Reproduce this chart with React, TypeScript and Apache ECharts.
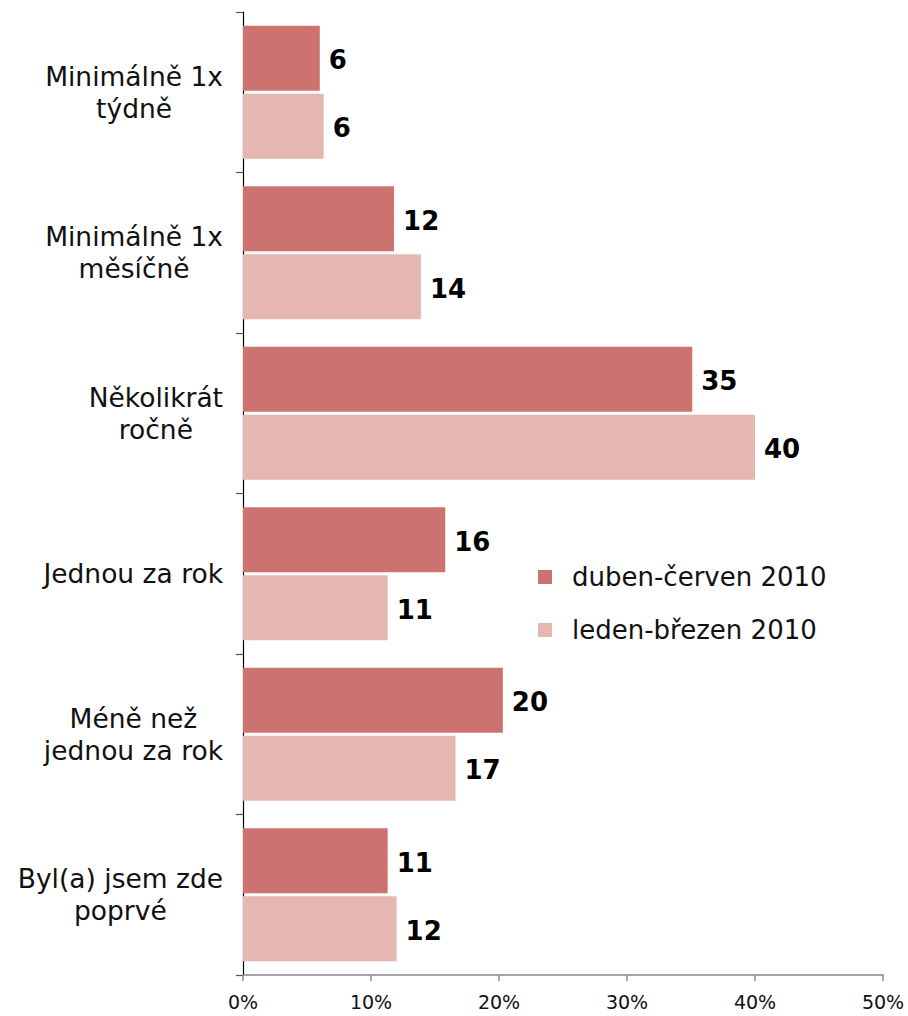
import React, { useEffect, useRef } from "react";
import * as echarts from "echarts";

const categories = [
  "Minimálně 1x\ntýdně",
  "Minimálně 1x\nměsíčně",
  "Několikrát\nročně",
  "Jednou za rok",
  "Méně než\njednou za rok",
  "Byl(a) jsem zde\npoprvé",
];
const seriesNames = ["duben-červen 2010", "leden-březen 2010"];
const aprJun = [6.0, 11.8, 35.1, 15.8, 20.3, 11.3];
const janMar = [6.3, 13.9, 40.0, 11.3, 16.6, 12.0];
const xTicks = [0, 10, 20, 30, 40, 50];
const colors = ["#CC7370", "#E6B7B1"];

const FONT = "DejaVu Sans, Verdana, sans-serif";

export default function App() {
  const ref = useRef<HTMLDivElement>(null);
  useEffect(() => {
    if (!ref.current) return;
    const chart = echarts.init(ref.current, undefined, { renderer: "svg" });
    const labelCfg = {
      show: true,
      position: "right",
      distance: 9,
      offset: [0, 2],
      formatter: (p: any) => String(Math.round(p.value)),
      fontFamily: FONT,
      fontWeight: "bold",
      fontSize: 26,
      color: "#000",
    };
    chart.setOption({
      animation: false,
      textStyle: { fontFamily: FONT },
      grid: { left: 243, right: 25, top: 12, bottom: 41, containLabel: false },
      legend: {
        orient: "vertical",
        left: 533,
        top: 559,
        itemWidth: 14,
        itemHeight: 14,
        itemGap: 27,
        icon: "rect",
        textStyle: { fontFamily: FONT, fontSize: 26, color: "#111", padding: [0, 0, 0, 15] },
        data: seriesNames,
      },
      xAxis: {
        type: "value",
        min: xTicks[0],
        max: xTicks[xTicks.length - 1],
        interval: 10,
        splitLine: { show: false },
        axisLine: { show: true, lineStyle: { color: "#888", width: 1.5 } },
        axisTick: { show: true, length: 6, lineStyle: { color: "#888", width: 1.5 } },
        axisLabel: {
          formatter: (v: number) => v + "%",
          fontFamily: FONT,
          fontSize: 19,
          color: "#111",
          margin: 17,
        },
      },
      yAxis: {
        type: "category",
        data: categories,
        inverse: true,
        axisLine: { show: true, lineStyle: { color: "#000", width: 1.2 } },
        axisTick: { show: true, length: 7, lineStyle: { color: "#555", width: 1.2 } },
        axisLabel: {
          margin: 20,
          fontFamily: FONT,
          fontSize: 26.5,
          color: "#111",
          lineHeight: 32,
          formatter: (v: string) =>
            v.split("\n").map((l) => `{c|${l}}`).join("\n"),
          rich: {
            c: { align: "center", fontFamily: FONT, fontSize: 26.5, color: "#111", lineHeight: 32 },
          },
        },
      },
      series: [
        {
          name: seriesNames[0],
          type: "bar",
          data: aprJun,
          itemStyle: { color: colors[0] },
          barGap: "5%",
          barCategoryGap: "17%",
          label: labelCfg,
        },
        {
          name: seriesNames[1],
          type: "bar",
          data: janMar,
          itemStyle: { color: colors[1] },
          barGap: "5%",
          barCategoryGap: "17%",
          label: labelCfg,
        },
      ],
    });
    return () => chart.dispose();
  }, []);
  return <div ref={ref} style={{ width: 908, height: 1016, position: "absolute", left: 0, top: 0 }} />;
}
